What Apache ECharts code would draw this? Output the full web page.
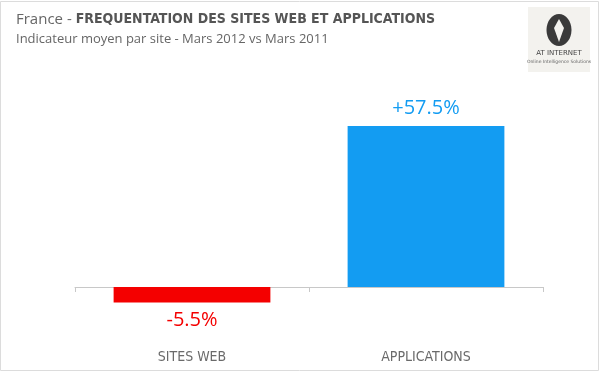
<!DOCTYPE html>
<html><head><meta charset="utf-8">
<script src="https://cdn.jsdelivr.net/npm/echarts@6/dist/echarts.min.js"></script>
<style>html,body{margin:0;padding:0;background:#fff}#c{width:600px;height:372px}</style>
</head><body><div id="c"></div>
<script>
const categories = ['SITES WEB', 'APPLICATIONS'];
const values = [-5.5, 57.5];
const barColors = ['#f40000', '#139cf2'];
const titleMain = 'FREQUENTATION DES SITES WEB ET APPLICATIONS';
const titlePrefix = 'France - ';
const subtitle = 'Indicateur moyen par site - Mars 2012 vs Mars 2011';

const chart = echarts.init(document.getElementById('c'));
chart.setOption({
  backgroundColor: '#fff',
  animation: false,
  title: {
    left: 11, top: 7,
    text: '{a|' + titlePrefix + '}{b|' + titleMain + '}',
    subtext: subtitle,
    itemGap: 6,
    textStyle: {
      rich: {
        a: { fontFamily: 'Open Sans', fontSize: 15, fontWeight: 'normal', color: '#666' },
        b: { fontFamily: 'Liberation Sans Narrow, DejaVu Sans Condensed', fontSize: 14, fontWeight: 'bold', color: '#555' }
      }
    },
    subtextStyle: { fontFamily: 'Open Sans', fontSize: 13, color: '#666' }
  },
  grid: { left: 75, right: 57, top: 84, bottom: 29, outerBoundsMode: 'none', containLabel: false },
  xAxis: {
    type: 'category', data: categories,
    axisLine: { onZero: true, lineStyle: { color: '#c8c8c8' } },
    axisTick: { show: true, length: 5, inside: false, lineStyle: { color: '#c8c8c8' } },
    axisLabel: { margin: 7, fontFamily: 'Liberation Sans Narrow, DejaVu Sans Condensed', fontSize: 14, color: '#6a6a6a' }
  },
  yAxis: {
    type: 'value', min: -20, max: 72.5, show: false, splitLine: { show: false }
  },
  series: [{
    type: 'bar', barWidth: '67%',
    data: values.map((v, i) => ({ value: v, itemStyle: { color: barColors[i] },
      label: { color: barColors[i] } })),
    label: {
      show: true, position: 'outside', distance: 8,
      fontFamily: 'Open Sans', fontSize: 20,
      formatter: p => (p.value > 0 ? '+' : '') + p.value.toFixed(1) + '%'
    }
  }],
  graphic: [
    { type: 'rect', shape: { x: 0.5, y: 1.5, width: 598, height: 369 }, style: { fill: 'none', stroke: '#dcdcdc', lineWidth: 1 } },
    { type: 'rect', shape: { x: 528, y: 7, width: 62, height: 65 }, style: { fill: '#f3f2ee' } },
    { type: 'ellipse', shape: { cx: 559, cy: 30, rx: 12.5, ry: 16 }, style: { fill: '#3a3a3a' } },
    { type: 'polygon', shape: { points: [[559, 19], [564, 28], [559, 42], [554, 28]] }, style: { fill: '#f3f2ee' } },
    { type: 'text', x: 559, y: 53, style: { text: 'AT INTERNET', fontSize: 7, fill: '#444', align: 'center', verticalAlign: 'middle', fontFamily: 'DejaVu Sans' } },
    { type: 'text', x: 559, y: 62, style: { text: 'Online Intelligence Solutions', fontSize: 4.5, fill: '#666', align: 'center', verticalAlign: 'middle', fontFamily: 'DejaVu Sans' } }
  ]
});
</script></body></html>
